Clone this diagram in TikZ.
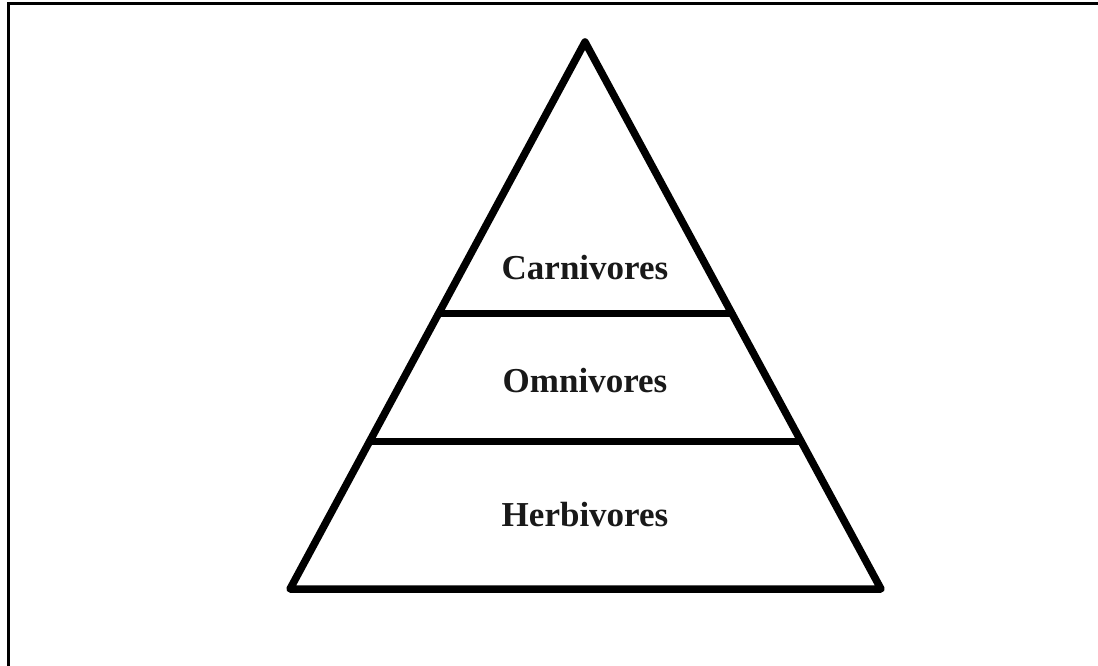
\documentclass[tikz,border=0pt]{standalone}
\usepackage{fontspec}
\setmainfont{Liberation Serif}
\usepackage{xcolor}
\usepackage{tikz}
\usetikzlibrary{positioning,calc}

\tikzset{
    level/.style={font=\fontsize{35}{40}\selectfont\bfseries, text=black!90},
    pyr/.style={line width=7.5pt, line join=round, line cap=round}
}

\begin{document}
\begin{tikzpicture}[x=1pt, y=-1pt]
    \useasboundingbox (0,0) rectangle (1098,666);
    % frame (top and left only)
    \draw[line width=3pt] (8,666) -- (8,4) -- (1098,4);
    % pyramid
    \coordinate (apex) at (585,42);
    \coordinate (bl) at (290,589);
    \coordinate (br) at (881,589);
    \draw[pyr] (apex) -- (br) -- (bl) -- cycle;
    \draw[pyr] ($(apex)!0.496!(bl)$) -- ($(apex)!0.496!(br)$);
    \draw[pyr] ($(apex)!0.730!(bl)$) -- ($(apex)!0.730!(br)$);
    \node[level] (carn) at (585,268) {Carnivores};
    \node[level] (omni) at (585,381) {Omnivores};
    \node[level] (herb) at (585,515) {Herbivores};
\end{tikzpicture}
\end{document}
